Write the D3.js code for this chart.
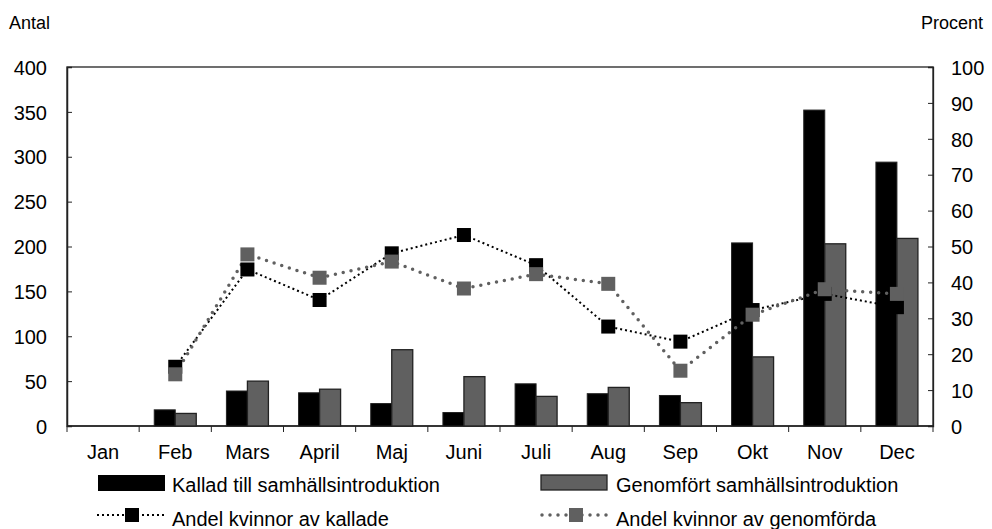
<!DOCTYPE html>
<html><head><meta charset="utf-8">
<script src="https://cdn.jsdelivr.net/npm/d3@7"></script>
<style>body{margin:0;background:#fff}svg{display:block;font-family:"Liberation Sans",Arial,sans-serif}</style>
</head><body><svg id="c" width="992" height="529"></svg>
<script>
const months = ["Jan","Feb","Mars","April","Maj","Juni","Juli","Aug","Sep","Okt","Nov","Dec"];
const kallad = [0,18,39,37,25,15,47,36,34,204,352,294];
const genomfort = [0,14,50,41,85,55,33,43,26,77,203,209];
const andelKallade = [null,16.5,43.6,35.1,48.1,53.2,44.8,27.7,23.5,32.3,36.8,33.1];
const andelGenomforda = [null,14.4,47.8,41.3,45.8,38.3,42.3,39.6,15.4,31.0,38.1,36.8];
const leftTicks = [0,50,100,150,200,250,300,350,400];
const rightTicks = [0,10,20,30,40,50,60,70,80,90,100];
const seriesNames = ["Kallad till samhällsintroduktion","Genomfört samhällsintroduktion","Andel kvinnor av kallade","Andel kvinnor av genomförda"];

const svg = d3.select("#c");
const L=67,R=933,T=67,B=426;
const x = d3.scaleBand().domain(months).range([L,R]);
const yL = d3.scaleLinear().domain([0,400]).range([B,T]);
const yR = d3.scaleLinear().domain([0,100]).range([B,T]);
const bw = 21;
const fs = 20;
const FF = "Liberation Sans, Arial, sans-serif";

// frame
svg.append("rect").attr("x",L).attr("y",T).attr("width",R-L).attr("height",B-T).attr("fill","none").attr("stroke","#222").attr("stroke-width",1.3);

const gl = svg.append("g").attr("transform",`translate(${L},0)`)
  .call(d3.axisLeft(yL).tickValues(leftTicks).tickSize(-5).tickPadding(20));
gl.select(".domain").attr("stroke","#222").attr("stroke-width",1.5);
gl.selectAll("line").attr("stroke","#222");
gl.selectAll("text").attr("font-size",fs).attr("fill","#000").attr("font-family",FF).attr("dy","0.36em");

const gr = svg.append("g").attr("transform",`translate(${R},0)`)
  .call(d3.axisRight(yR).tickValues(rightTicks).tickSize(-5).tickPadding(18));
gr.select(".domain").attr("stroke","#222").attr("stroke-width",1.3);
gr.selectAll("line").attr("stroke","#222");
gr.selectAll("text").attr("font-size",fs).attr("fill","#000").attr("font-family",FF).attr("dy","0.36em");

const gb = svg.append("g").attr("transform",`translate(0,${B})`);
gb.append("line").attr("x1",L).attr("x2",R).attr("stroke","#222").attr("stroke-width",1.5);
gb.selectAll("line.t").data(months).enter().append("line").attr("class","t")
  .attr("x1",d=>x(d)).attr("x2",d=>x(d)).attr("y1",0).attr("y2",6).attr("stroke","#222");
gb.append("line").attr("x1",R).attr("x2",R).attr("y1",0).attr("y2",6).attr("stroke","#222");
gb.selectAll("text").data(months).enter().append("text")
  .attr("x",d=>x(d)+x.bandwidth()/2).attr("y",32.5).attr("text-anchor","middle")
  .attr("font-size",fs).text(d=>d);

svg.append("text").attr("x",9).attr("y",29).attr("font-size",18).text("Antal");
svg.append("text").attr("x",983).attr("y",29).attr("font-size",18).attr("text-anchor","end").text("Procent");

const cx = d=>x(d)+x.bandwidth()/2;
svg.append("g").selectAll("rect").data(months).enter().append("rect")
  .attr("x",d=>cx(d)-bw).attr("width",bw)
  .attr("y",(d,i)=>yL(kallad[i])).attr("height",(d,i)=>B-yL(kallad[i]))
  .attr("fill","#000").attr("stroke","#222").attr("stroke-width",1)
  .attr("display",(d,i)=>kallad[i]>0?null:"none");
svg.append("g").selectAll("rect").data(months).enter().append("rect")
  .attr("x",d=>cx(d)).attr("width",bw)
  .attr("y",(d,i)=>yL(genomfort[i])).attr("height",(d,i)=>B-yL(genomfort[i]))
  .attr("fill","#606060").attr("stroke","#222").attr("stroke-width",1.3)
  .attr("display",(d,i)=>genomfort[i]>0?null:"none");

function drawLine(vals,color,dash,width,cap){
  const pts = months.map((m,i)=>[cx(m),vals[i]]).filter(p=>p[1]!=null);
  svg.append("path").datum(pts)
    .attr("d",d3.line().x(p=>p[0]).y(p=>yR(p[1])))
    .attr("fill","none").attr("stroke",color).attr("stroke-width",width)
    .attr("stroke-dasharray",dash).attr("stroke-linecap",cap);
  return pts;
}
const p1 = drawLine(andelKallade,"#000","2,3",2,"butt");
const p2 = drawLine(andelGenomforda,"#606060","0,8",3.5,"round");
svg.append("g").selectAll("rect").data(p1).enter().append("rect")
  .attr("x",p=>p[0]-7).attr("y",p=>yR(p[1])-7).attr("width",14).attr("height",14).attr("fill","#000");
svg.append("g").selectAll("rect").data(p2).enter().append("rect")
  .attr("x",p=>p[0]-7).attr("y",p=>yR(p[1])-7).attr("width",14).attr("height",14).attr("fill","#606060");

const lg = svg.append("g");
lg.append("rect").attr("x",98).attr("y",475).attr("width",67).attr("height",16).attr("fill","#000");
lg.append("text").attr("x",172).attr("y",492).attr("font-size",fs).text(seriesNames[0]);
lg.append("rect").attr("x",541).attr("y",475).attr("width",66).attr("height",15).attr("fill","#606060").attr("stroke","#222").attr("stroke-width",1.3);
lg.append("text").attr("x",616).attr("y",492).attr("font-size",fs).text(seriesNames[1]);
lg.append("line").attr("x1",97).attr("x2",166).attr("y1",515).attr("y2",515).attr("stroke","#000").attr("stroke-width",2).attr("stroke-dasharray","2,3");
lg.append("rect").attr("x",125).attr("y",508).attr("width",14).attr("height",14).attr("fill","#000");
lg.append("text").attr("x",172).attr("y",526).attr("font-size",fs).text(seriesNames[2]);
lg.append("line").attr("x1",542).attr("x2",609).attr("y1",515).attr("y2",515).attr("stroke","#606060").attr("stroke-width",3.5).attr("stroke-dasharray","0,8").attr("stroke-linecap","round");
lg.append("rect").attr("x",569).attr("y",508).attr("width",14).attr("height",14).attr("fill","#606060");
lg.append("text").attr("x",616).attr("y",526).attr("font-size",fs).text(seriesNames[3]);
</script></body></html>
